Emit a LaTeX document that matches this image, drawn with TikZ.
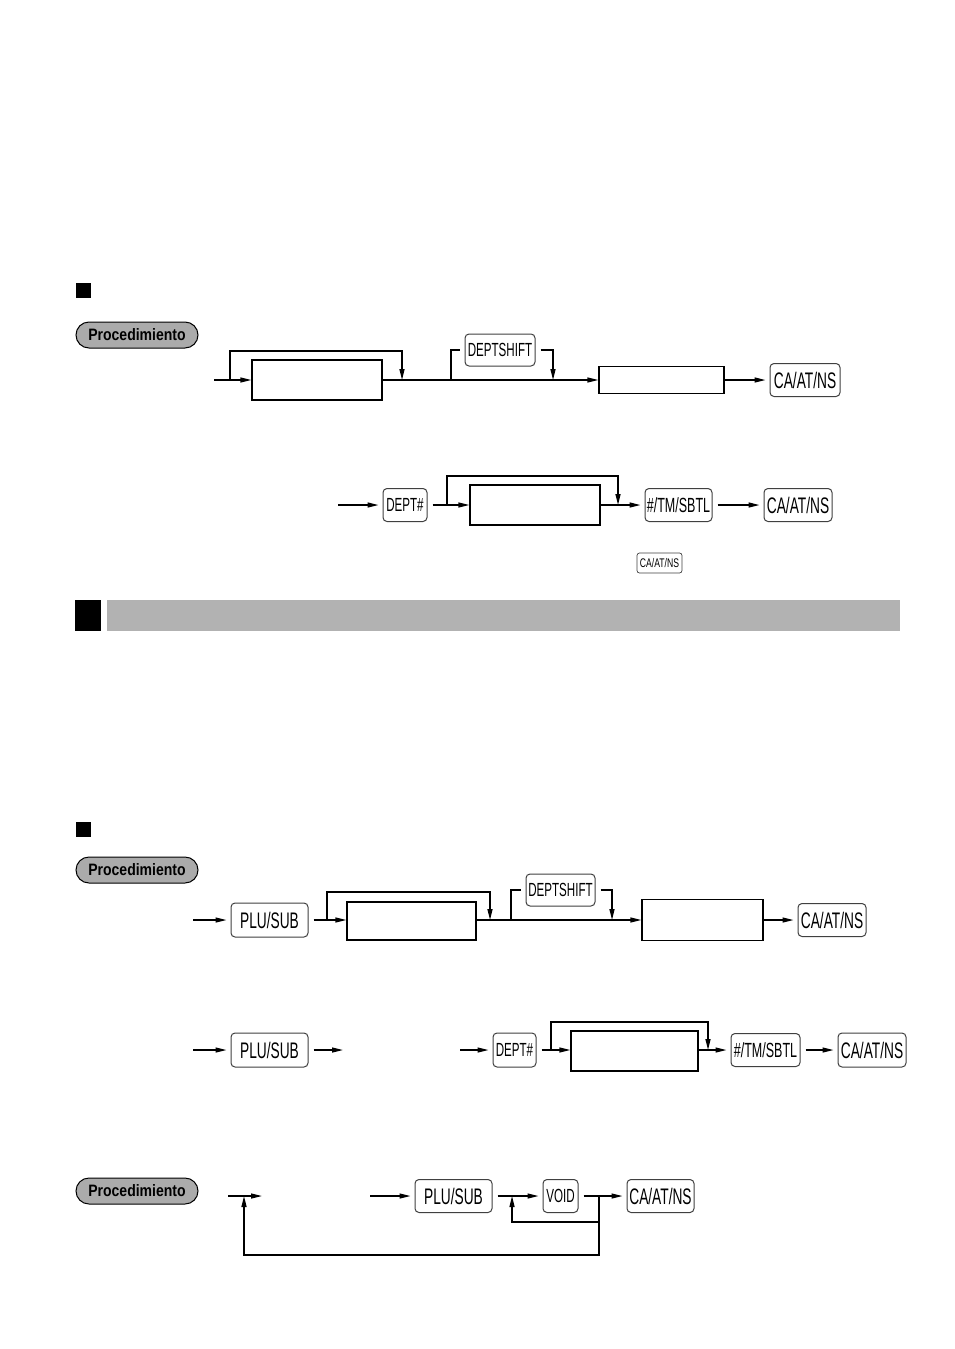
\documentclass[tikz,border=0pt]{standalone}
\usepackage{fontspec}
\usetikzlibrary{arrows.meta}
\newfontfamily\keyfont[FakeStretch=0.61]{Liberation Sans}
\newfontfamily\tinykeyfont[FakeStretch=0.69]{Liberation Sans}
\newfontfamily\procfont[FakeStretch=0.85]{Liberation Sans}
\begin{document}
\begin{tikzpicture}[x=1pt,y=-1pt,
 key/.style={draw=black!75, line width=1pt, rounded corners=4pt, fill=white, inner sep=0pt, minimum height=33pt, font=\keyfont\fontsize{22.5}{22.5}\selectfont},
 keysm/.style={key, font=\keyfont\fontsize{19}{19}\selectfont},
 keymd/.style={key, font=\keyfont\fontsize{20.5}{20.5}\selectfont},
 keytiny/.style={key, line width=0.7pt, rounded corners=2.5pt, minimum height=20pt, font=\tinykeyfont\fontsize{12.5}{12.5}\selectfont},
 entry/.style={draw, line width=1.3pt, inner sep=0pt},
 conn/.style={line width=1.3pt},
 flow/.style={conn, -{Triangle[length=11pt,width=5pt]}},
 tokey/.style={flow, shorten >=4pt},
 fromkey/.style={shorten <=5pt},
 proc/.style={draw, line width=1pt, fill=black!33, rounded corners=13pt, minimum width=122pt, minimum height=26pt, inner sep=0pt, font=\procfont\bfseries\fontsize{16.5}{16.5}\selectfont},
 sq/.style={fill=black, inner sep=0pt, minimum size=15pt},
]
\useasboundingbox (0,0) rectangle (954,1349);

% ---------- section 1 ----------
\node[sq] (sq1) at (83.5,290) {};
\node[proc] (p1) at (137,335) {Procedimiento};

% row 1
\node[entry, minimum width=130pt, minimum height=40pt] (b1) at (317,380) {};
\node[keysm, minimum width=70pt, minimum height=32pt] (ds1) at (500,350) {DEPTSHIFT};
\node[entry, minimum width=125pt, minimum height=27pt] (b2) at (661.5,380) {};
\node[key, minimum width=70pt] (ca1) at (805,380) {CA/AT/NS};
\coordinate (s1) at (214,380);
\coordinate (l1a) at (230,380);
\coordinate (l1b) at (402,380);
\coordinate (d1a) at (451,380);
\coordinate (d1b) at (553,380);
\draw[flow] (s1) -- (b1.west);
\draw[flow] (l1a) -- ++(0,-29) -| (l1b);
\draw[flow] (b1.east) -- (b2.west);
\draw[conn, shorten >=5pt] (d1a) |- (ds1.west);
\draw[flow, fromkey] (ds1.east) -| (d1b);
\draw[tokey] (b2.east) -- (ca1.west);

% row 2
\coordinate (s2) at (338,505);
\node[keysm, minimum width=44pt] (dp1) at (405,505) {DEPT\#};
\node[entry, minimum width=130pt, minimum height=40pt] (b3) at (535,505) {};
\node[keymd, minimum width=67pt] (hs1) at (678.5,505) {\#/TM/SBTL};
\node[key, minimum width=68pt] (ca2) at (798,505) {CA/AT/NS};
\node[keytiny, minimum width=45pt] (ca0) at (659.5,563) {CA/AT/NS};
\coordinate (l2a) at (447,505);
\coordinate (l2b) at (618,505);
\draw[tokey] (s2) -- (dp1.west);
\draw[flow, fromkey] (dp1.east) -- (b3.west);
\draw[flow] (l2a) -- ++(0,-29) -| (l2b);
\draw[tokey] (b3.east) -- (hs1.west);
\draw[tokey, fromkey] (hs1.east) -- (ca2.west);

% ---------- section bar ----------
\node[fill=black, inner sep=0pt, minimum width=26pt, minimum height=31pt] (sq2) at (88,615.5) {};
\node[fill=black!30, inner sep=0pt, minimum width=793pt, minimum height=31pt] (bar) at (503.5,615.5) {};

% ---------- section 2 ----------
\node[sq] (sq3) at (83.5,829.5) {};
\node[proc] (p2) at (137,870) {Procedimiento};

% row 3
\coordinate (s3) at (193,920);
\node[key, minimum width=77pt, minimum height=34pt] (pl1) at (269.5,920) {PLU/SUB};
\node[entry, minimum width=129pt, minimum height=38pt] (b4) at (411.5,921) {};
\node[keysm, minimum width=69pt, minimum height=32pt] (ds2) at (560.5,890) {DEPTSHIFT};
\node[entry, minimum width=121pt, minimum height=41pt] (b5) at (702.5,920) {};
\node[key, minimum width=68pt] (ca3) at (832,920) {CA/AT/NS};
\coordinate (l3a) at (327,920);
\coordinate (l3b) at (490,920);
\coordinate (d3a) at (511,920);
\coordinate (d3b) at (612,920);
\draw[tokey] (s3) -- (pl1.west);
\draw[flow, fromkey] (pl1.east) -- (pl1.east -| b4.west);
\draw[flow] (l3a) -- ++(0,-28) -| (l3b);
\draw[flow] (b4.east |- l3b) -- (b5.west);
\draw[conn, shorten >=5pt] (d3a) |- (ds2.west);
\draw[flow, fromkey] (ds2.east) -| (d3b);
\draw[tokey] (b5.east) -- (ca3.west);

% row 4
\coordinate (s4) at (193,1050);
\node[key, minimum width=77pt, minimum height=34pt] (pl2) at (269.5,1050) {PLU/SUB};
\coordinate (e4) at (343,1050);
\coordinate (s4b) at (460,1050);
\node[keysm, minimum width=43pt, minimum height=34pt] (dp2) at (514.5,1050) {DEPT\#};
\node[entry, minimum width=127pt, minimum height=40pt] (b6) at (634.5,1051) {};
\node[keymd, minimum width=69pt] (hs2) at (765.5,1050) {\#/TM/SBTL};
\node[key, minimum width=68pt, minimum height=34pt] (ca4) at (872,1050) {CA/AT/NS};
\coordinate (l4a) at (551,1050);
\coordinate (l4b) at (708,1050);
\draw[tokey] (s4) -- (pl2.west);
\draw[flow, fromkey] (pl2.east) -- (e4);
\draw[tokey] (s4b) -- (dp2.west);
\draw[flow, fromkey] (dp2.east) -- (dp2.east -| b6.west);
\draw[flow] (l4a) -- ++(0,-28) -| (l4b);
\draw[tokey] (b6.east |- l4b) -- (hs2.west);
\draw[tokey, fromkey] (hs2.east) -- (ca4.west);

% row 5
\node[proc] (p3) at (137,1191) {Procedimiento};
\coordinate (s5a) at (228,1196);
\coordinate (e5a) at (262,1196);
\coordinate (s5b) at (370,1196);
\node[key, minimum width=77pt] (pl3) at (453.5,1196) {PLU/SUB};
\node[keysm, minimum width=35pt] (vd) at (560.5,1196) {VOID};
\node[key, minimum width=67pt] (ca5) at (660.5,1196) {CA/AT/NS};
\coordinate (j5) at (599,1196);
\coordinate (r5) at (512,1196);
\coordinate (r5o) at (244,1196);
\draw[flow] (s5a) -- (e5a);
\draw[tokey] (s5b) -- (pl3.west);
\draw[tokey, fromkey] (pl3.east) -- (vd.west);
\draw[tokey, fromkey] (vd.east) -- (ca5.west);
\draw[flow] (j5) -- ++(0,26) -| (r5);
\draw[flow] (j5) -- ++(0,59) -| (r5o);
\end{tikzpicture}
\end{document}
